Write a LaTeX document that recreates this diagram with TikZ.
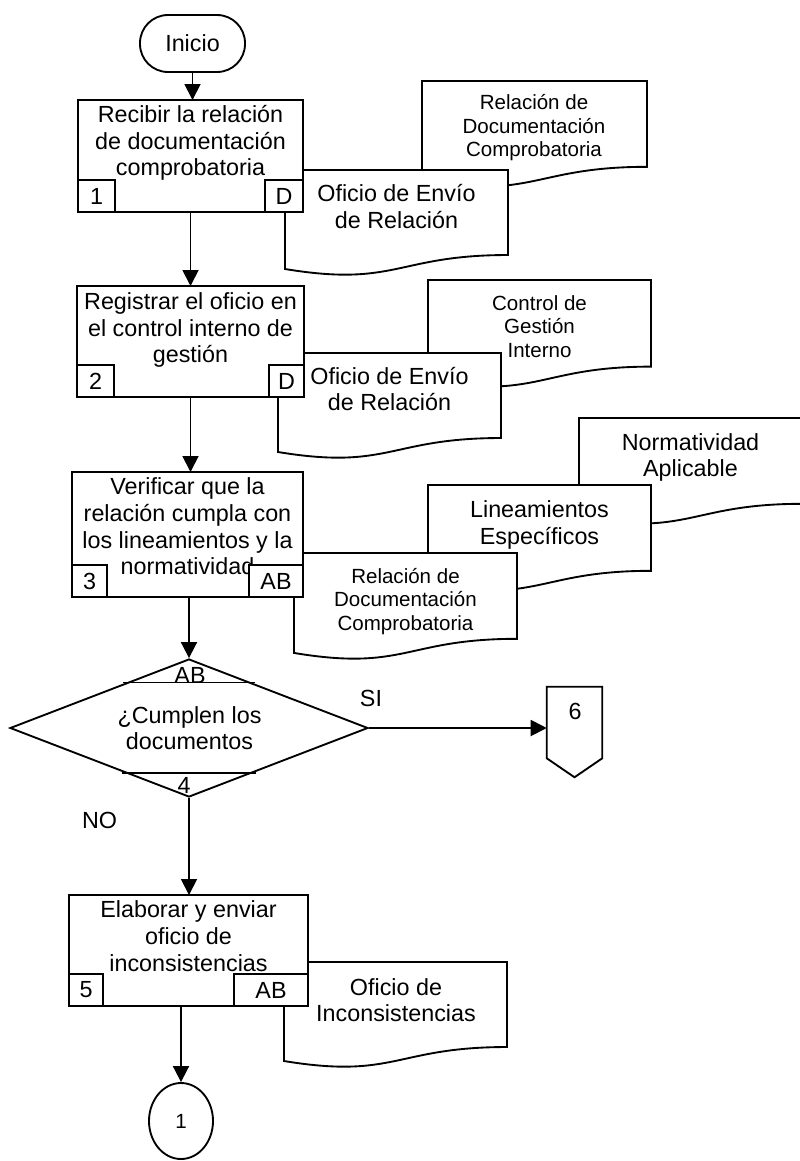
\documentclass[tikz,border=0pt]{standalone}
\usepackage{fontspec}
\setmainfont{Liberation Sans}
\usetikzlibrary{arrows.meta,positioning,shapes.geometric,calc}

\newcommand{\bigtxt}{\fontsize{17.5pt}{20pt}\selectfont}
\newcommand{\smalltxt}{\fontsize{15.4pt}{17.6pt}\selectfont}

% wavy document outline: left, top, width, height
\newcommand{\docoutline}[4]{%
  \filldraw[docline] (#1,#2) -- ({#1+#3},#2) -- ({#1+#3},{#2+0.802*#4})
    .. controls ({#1+0.5*#3},{#2+0.802*#4}) and ({#1+0.5*#3},{#2+1.1075*#4}) .. (#1,{#2+0.934*#4}) -- cycle;}

\tikzset{
  docline/.style={draw,fill=white,line width=1.4pt},
  procbox/.style={rectangle,draw,fill=white,line width=1.4pt,inner sep=0pt,outer sep=0pt},
  tagbox/.style={rectangle,draw,fill=white,line width=1.4pt,inner sep=0pt,outer sep=0pt,minimum height=24pt},
  txt/.style={align=center,inner sep=0pt},
  arr/.style={-{Triangle[length=12pt,width=12pt]},line width=1.4pt}
}

\begin{document}
\begin{tikzpicture}[x=0.75pt,y=-0.75pt,font=\bigtxt]
	\useasboundingbox (0,0) rectangle (800,1161);
	\fill[white] (0,0) rectangle (800,1161);

	% documents (back to front)
	\docoutline{422}{81}{225}{107}
	\node[txt,font=\smalltxt] (rel1txt) at (534,128) {Relación de\\Documentación\\Comprobatoria};
	\docoutline{285}{170}{223}{106}
	\node[txt] (ofi1txt) at (396.5,206.5) {Oficio de Envío\\de Relación};

	\docoutline{428}{280}{223}{108}
	\node[txt,font=\smalltxt] (ctrltxt) at (539.5,326.5) {Control de\\Gestión\\Interno};
	\docoutline{278}{353}{223}{106}
	\node[txt] (ofi2txt) at (389.5,389) {Oficio de Envío\\de Relación};

	\docoutline{579}{418}{223}{107}
	\node[txt] (normtxt) at (690.5,457.5) {Normatividad\\Aplicable};
	\docoutline{428}{485}{223}{107}
	\node[txt] (linetxt) at (539.5,525) {Lineamientos\\Específicos};
	\docoutline{294}{553}{223}{107}
	\node[txt,font=\smalltxt] (rel2txt) at (405.5,601.5) {Relación de\\Documentación\\Comprobatoria};

	\docoutline{284}{962}{223}{106}
	\node[txt] (inctxt) at (396,1000) {Oficio de\\Inconsistencias};

	% start
	\node[rectangle,draw,line width=1.4pt,rounded corners=21pt,minimum width=78.75pt,minimum height=42.75pt] (inicio) at (192.5,43.5) {Inicio};

	% process boxes
	\node[procbox,minimum width=168.75pt,minimum height=84pt] (p1) at (190.5,156) {};
	\node[txt] (p1txt) at (190.5,143) {Recibir la relación\\de documentación\\comprobatoria};
	\node[tagbox,minimum width=27.75pt,anchor=south west] (t1a) at (p1.south west) {1};
	\node[tagbox,minimum width=28.5pt,anchor=south east] (t1b) at (p1.south east) {D};

	\node[procbox,minimum width=170.25pt,minimum height=83.25pt] (p2) at (190.5,341.5) {};
	\node[txt] (p2txt) at (190.5,330) {Registrar el oficio en\\el control interno de\\gestión};
	\node[tagbox,minimum width=27.75pt,anchor=south west] (t2a) at (p2.south west) {2};
	\node[tagbox,minimum width=26.25pt,anchor=south east] (t2b) at (p2.south east) {D};

	\node[procbox,minimum width=173.25pt,minimum height=93.75pt] (p3) at (187.5,534.5) {};
	\node[txt] (p3txt) at (187.5,526.5) {Verificar que la\\relación cumpla con\\los lineamientos y la\\normatividad};
	\node[tagbox,minimum width=26.25pt,anchor=south west] (t3a) at (p3.south west) {3};
	\node[tagbox,minimum width=40.5pt,anchor=south east] (t3b) at (p3.south east) {AB};

	% decision
	\node[diamond,draw,line width=1.4pt,inner sep=0pt,minimum width=268.5pt,minimum height=103.5pt] (dec) at (189,728) {};
	\draw[line width=1.4pt,shorten <=-2pt,shorten >=-2pt] ($(dec.north)!0.35!(dec.west)$) -- ($(dec.north)!0.35!(dec.east)$);
	\draw[line width=1.4pt,shorten <=-2pt,shorten >=-2pt] ($(dec.south)!0.36!(dec.west)$) -- ($(dec.south)!0.36!(dec.east)$);
	\node[txt] (decab) at (190,675) {AB};
	\node[txt] (dec4) at (184,785) {4};
	\node[txt] (dectxt) at (189.5,728) {¿Cumplen los\\documentos};
	\node[txt] (si) at (371,698) {SI};
	\node[txt] (no) at (99.5,820.5) {NO};

	% off-page connector
	\node[minimum width=41.25pt,minimum height=67.5pt,inner sep=0pt] (six) at (574.5,732) {};
	\draw[line width=1.4pt] (six.north west) -- (six.north east) -- ($(six.south east)+(0,-19)$) -- (six.south) -- ($(six.south west)+(0,-19)$) -- cycle;
	\node[txt] (sixtxt) at (575,711.5) {6};

	\node[procbox,minimum width=179.25pt,minimum height=83.25pt] (p5) at (188.5,950.5) {};
	\node[txt] (p5txt) at (188.5,936) {Elaborar y enviar\\oficio de\\inconsistencias};
	\node[tagbox,minimum width=25.5pt,anchor=south west] (t5a) at (p5.south west) {5};
	\node[tagbox,minimum width=55.5pt,anchor=south east] (t5b) at (p5.south east) {AB};

	% connector circle
	\node[ellipse,draw,line width=1.4pt,inner sep=0pt,minimum width=48pt,minimum height=57pt,font=\smalltxt] (circ) at (181,1121) {1};

	% flow
	\draw[arr] (inicio.south) -- (inicio.south |- p1.north);
	\draw[arr] (p1.south) -- (p2.north);
	\draw[arr] (p2.south) -- (p2.south |- p3.north);
	\draw[arr] (dec.north |- p3.south) -- (dec.north);
	\draw[arr] (dec.east) -- (dec.east -| six.west);
	\draw[arr] (dec.south) -- (dec.south |- p5.north);
	\draw[arr] (p5.south -| circ.north) -- (circ.north);
\end{tikzpicture}
\end{document}
